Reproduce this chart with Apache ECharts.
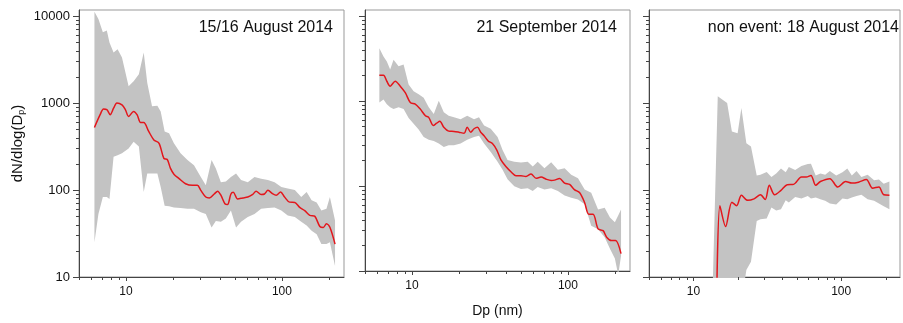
<!DOCTYPE html>
<html>
<head>
<meta charset="utf-8">
<script src="https://cdn.jsdelivr.net/npm/echarts@6/dist/echarts.min.js"></script>
<style>
  html, body { margin: 0; padding: 0; background: #fff; }
  #chart { width: 903px; height: 323px; }
</style>
</head>
<body>
<div id="chart"></div>
<script>
// panel titles
const panelTitles = ['15/16 August 2014', '21 September 2014', 'non event: 18 August 2014'];

// 15/16 August 2014 : band (min / max) and median
const dp1Band = [6.28, 6.66, 7.11, 7.54, 7.84, 8.33, 8.84, 9.43, 10.4, 11.2, 12.1, 13.0, 13.7, 14.7, 15.9, 16.7, 17.7, 18.9, 20.3, 22.4, 24.8, 27.3, 30.2, 32.5, 35.4, 37.7, 40.6, 43.7, 47.1, 50.8, 54.7, 60.4, 66.7, 73.6, 81.3, 89.7, 99.1, 109, 121, 133, 144, 155, 167, 179, 193, 203, 219];
const upper1 = [11200, 9230, 6480, 6800, 4960, 3800, 4150, 3320, 1560, 1780, 2140, 3800, 1700, 914, 930, 800, 470, 450, 344, 264, 221, 193, 141, 113, 221, 177, 123, 125, 141, 155, 130, 123, 141, 135, 130, 123, 108, 104, 100, 83, 95, 76, 72, 58, 61, 83, 44.6];
const lower1 = [25, 53, 83, 83, 79, 241, 251, 264, 300, 358, 315, 95, 155, 155, 155, 108, 66, 65, 63, 62, 61, 61, 55.5, 53, 37, 44, 43, 47, 58, 37, 43, 49, 53, 61, 62, 63, 58, 51, 49, 43, 39, 34, 31, 24, 24, 25, 13.4];
const dp1Line = [6.28, 6.83, 7.18, 7.54, 7.92, 8.33, 8.75, 9.43, 9.91, 10.4, 11.2, 11.8, 12.4, 13.0, 14.0, 15.1, 16.3, 17.5, 18.4, 19.3, 20.3, 21.9, 24.1, 26.7, 28.7, 30.2, 32.5, 34.2, 36.8, 38.7, 40.6, 43.1, 44.8, 47.1, 48.8, 52.0, 56.1, 60.4, 65.0, 68.3, 73.6, 77.3, 81.3, 87.5, 91.9, 98.0, 104, 112, 121, 130, 140, 151, 162, 175, 184, 193, 203, 219];
const median1 = [522, 733, 851, 840, 733, 870, 1000, 950, 840, 700, 800, 730, 597, 597, 470, 376, 344, 231, 224, 177, 152, 135, 118, 113, 113, 99, 83, 81, 90, 97, 87, 69.5, 68, 90, 94, 79, 81, 83, 89, 97, 89, 90, 99, 90, 87, 95, 83, 72.5, 72, 63, 58, 51, 50, 38, 37, 41, 37.3, 23.9];

// 21 September 2014
const dp2Band = [6.18, 6.57, 6.90, 7.25, 7.62, 8.21, 8.84, 9.52, 10.25, 11.04, 11.89, 12.81, 13.8, 14.86, 16.0, 17.2, 18.6, 20.5, 22.6, 25.0, 26.9, 29.0, 32.0, 35.4, 38.1, 41.0, 45.3, 50, 55.2, 59.5, 64.0, 70.7, 78.1, 86.2, 95.2, 105, 116, 128, 141, 156, 172, 186, 200, 210, 219];
const upper2 = [4150, 3330, 2900, 2330, 3050, 2550, 2670, 1560, 1300, 1195, 1090, 840, 700, 1000, 733, 670, 640, 610, 670, 610, 640, 514, 470, 376, 264, 202, 193, 188, 193, 169, 193, 161, 190, 155, 161, 135, 123, 91, 83, 53, 55.5, 42.6, 37.3, 45, 53];
const lower2 = [957, 1040, 915, 840, 800, 840, 800, 630, 540, 460, 376, 350, 338, 315, 287, 300, 300, 315, 350, 376, 390, 315, 251, 193, 155, 120, 99, 92, 94, 87, 97, 90.6, 94, 87, 77, 72.5, 69.3, 61, 34, 31, 25, 18.3, 14, 9, 15];
const dp2Line = [6.18, 6.57, 6.90, 7.25, 7.81, 8.41, 9.06, 9.76, 10.5, 11.3, 12.2, 12.8, 13.7, 14.4, 15.1, 16.0, 17.2, 18.6, 20.0, 21.6, 22.6, 23.8, 25.0, 26.3, 27.6, 29.0, 30.8, 32.8, 35.0, 37.2, 40.0, 43.1, 46.4, 50.0, 53.8, 58.0, 62.5, 67.3, 72.5, 78.1, 82.0, 88.4, 95.2, 102.5, 110, 119, 128, 136, 145, 156, 168, 177, 190, 202, 219];
const median2 = [2000, 2000, 1700, 1490, 1700, 1490, 1250, 957, 915, 800, 670, 640, 514, 546, 577, 490, 441, 437, 428, 417, 490, 428, 470, 490, 428, 390, 338, 315, 264, 202, 169, 147, 132, 132, 129, 138, 123, 127, 120, 116, 117, 122, 108, 104, 90.6, 83, 63.5, 46.5, 46.5, 31.2, 29.8, 25, 22.8, 22.8, 16.0];

// non event: 18 August 2014 (values below 10 lie under the axis)
const dp3Band = [13.4, 14.6, 16.9, 18.2, 19.9, 21.1, 22.8, 24.5, 26.8, 28.4, 31.3, 33.7, 36.3, 39.1, 42.1, 44.2, 48.8, 53.8, 59.4, 62.4, 67.2, 72.3, 77.9, 83.8, 92.5, 102, 110, 118, 127, 137, 151, 167, 180, 194, 212];
const upper3 = [5, 1195, 1000, 470, 450, 875, 345, 315, 147, 150, 161, 141, 155, 177, 160, 184, 170, 188, 199, 200, 147, 155, 150, 165, 147, 160, 177, 147, 165, 141, 150, 129, 132, 118, 125];
const lower3 = [5, 5, 5, 5, 5, 5, 12, 15, 44, 46, 47, 63, 58, 60, 76, 72, 83, 80, 85, 80, 82, 78, 75, 70, 68, 80, 78, 82, 85, 88, 78, 75, 70, 65, 60];
const dp3Line = [14.3, 15.1, 16.5, 18.2, 19.6, 21.1, 23.3, 25.7, 28.4, 30.6, 32.6, 35.4, 39.1, 43.1, 47.6, 53.8, 58.0, 62.4, 67.2, 72.3, 83.8, 94.8, 107, 118, 131, 148, 163, 180, 194, 212];
const median3 = [3, 66, 38, 72.5, 66, 87, 76, 79, 88, 77.5, 113, 88, 99, 115, 116, 141, 141, 147, 113, 125, 135, 108, 125, 120, 123, 132, 105, 108, 88, 87];

// axis ticks
const xMajorTicks = [10, 100];
const xMinorTicks = [5, 6, 7, 8, 9, 20, 30, 40, 50, 60, 70, 80, 90, 200];
const yMajorTicks = [10, 100, 1000, 10000];
const yMinorTicks = [20, 30, 40, 50, 60, 70, 80, 90, 200, 300, 400, 500, 600, 700, 800, 900, 2000, 3000, 4000, 5000, 6000, 7000, 8000, 9000];

const X_MIN = 5, X_MAX = 250, Y_MIN = 10, Y_MAX = 11700;

const panels = [
    { dpBand: dp1Band, upper: upper1, lower: lower1, dpLine: dp1Line, median: median1 },
    { dpBand: dp2Band, upper: upper2, lower: lower2, dpLine: dp2Line, median: median2 },
    { dpBand: dp3Band, upper: upper3, lower: lower3, dpLine: dp3Line, median: median3 }
];

const gridLefts = [79, 365, 649];
const axisColor = '#444';

// band rows are [value, dp] so the stack runs on the y value (dimension 0)
const bandRows = (dp, vals) => dp.map((d, i) => [vals[i], d]);

const tickData = [];
xMajorTicks.forEach(v => tickData.push([v, Y_MIN, 0]));
xMinorTicks.forEach(v => tickData.push([v, Y_MIN, 1]));
yMajorTicks.forEach(v => tickData.push([X_MIN, v, 2]));
yMinorTicks.forEach(v => tickData.push([X_MIN, v, 3]));

const renderTick = (params, api) => {
    const p = api.coord([api.value(0), api.value(1)]);
    const kind = api.value(2);
    let shape;
    if (kind < 2) {
        const x = Math.round(p[0]) + 0.5;
        const len = kind === 0 ? 4 : 3;
        shape = { x1: x, y1: p[1], x2: x, y2: p[1] + len };
    } else {
        const y = Math.round(p[1]) + 0.5;
        const len = kind === 2 ? 6 : 3;
        shape = { x1: p[0] - len, y1: y, x2: p[0], y2: y };
    }
    return { type: 'line', shape: shape, style: { stroke: axisColor, lineWidth: 1 } };
};

const grids = [], xAxes = [], yAxes = [], series = [], titles = [];

panels.forEach((pn, i) => {
    grids.push({
        left: gridLefts[i], width: 265, top: 10, bottom: 46,
        show: true, borderColor: '#999', borderWidth: 1, backgroundColor: 'transparent'
    });
    xAxes.push({
        type: 'log', logBase: 10, gridIndex: i, min: X_MIN, max: X_MAX,
        name: i === 1 ? 'Dp (nm)' : '', nameLocation: 'middle', nameGap: 33,
        nameTextStyle: { fontSize: 14, color: '#111', fontFamily: 'Liberation Sans' },
        axisLine: { show: true, lineStyle: { color: axisColor } },
        axisTick: { show: false },
        splitLine: { show: false },
        axisLabel: {
            margin: 9, fontSize: 12, color: '#111', fontFamily: 'Liberation Sans',
            formatter: v => (xMajorTicks.includes(Math.round(v)) ? String(Math.round(v)) : '')
        }
    });
    yAxes.push({
        type: 'log', logBase: 10, gridIndex: i, min: Y_MIN, max: Y_MAX,
        name: i === 0 ? '{n|dN/dlog(D}{s|p}{n|)}' : '',
        nameLocation: 'middle', nameGap: 53, nameRotate: 90,
        nameTextStyle: {
            rich: {
                n: { fontSize: 15, color: '#111', fontFamily: 'Liberation Sans' },
                s: { fontSize: 9, color: '#111', fontFamily: 'Liberation Sans', padding: [7, 0, 0, 0] }
            }
        },
        axisLine: { show: true, lineStyle: { color: axisColor } },
        axisTick: { show: false },
        splitLine: { show: false },
        axisLabel: {
            show: i === 0, margin: 9, fontSize: 13, color: '#111', fontFamily: 'Liberation Sans',
            formatter: v => (yMajorTicks.includes(Math.round(v)) ? String(Math.round(v)) : '')
        }
    });
    series.push({
        type: 'line', xAxisIndex: i, yAxisIndex: i, stack: 'band' + i,
        data: bandRows(pn.dpBand, pn.lower), encode: { x: 1, y: 0 },
        symbol: 'none', silent: true, lineStyle: { opacity: 0 }, z: 1
    });
    series.push({
        type: 'line', xAxisIndex: i, yAxisIndex: i, stack: 'band' + i,
        data: bandRows(pn.dpBand, pn.upper.map((u, k) => u - pn.lower[k])), encode: { x: 1, y: 0 },
        symbol: 'none', silent: true, lineStyle: { opacity: 0 },
        areaStyle: { color: '#c3c3c3', opacity: 1 }, z: 1
    });
    series.push({
        type: 'line', xAxisIndex: i, yAxisIndex: i,
        data: pn.dpLine.map((d, k) => [d, pn.median[k]]), symbol: 'none', smooth: 0.3, silent: true,
        lineStyle: { color: '#e3161c', width: 1.5 }, z: 3
    });
    series.push({
        type: 'custom', xAxisIndex: i, yAxisIndex: i, clip: false, silent: true,
        data: tickData, encode: { x: 0, y: 1 }, renderItem: renderTick, z: 4
    });
    titles.push({
        text: panelTitles[i], right: [903 - 333, 903 - 617, 4][i], top: 20, padding: 0,
        textStyle: { fontSize: 16, fontWeight: 'normal', color: '#111', fontFamily: 'Liberation Sans' }
    });
});

const chart = echarts.init(document.getElementById('chart'));
chart.setOption({
    animation: false,
    title: titles,
    grid: grids,
    xAxis: xAxes,
    yAxis: yAxes,
    series: series
});
</script>
</body>
</html>
